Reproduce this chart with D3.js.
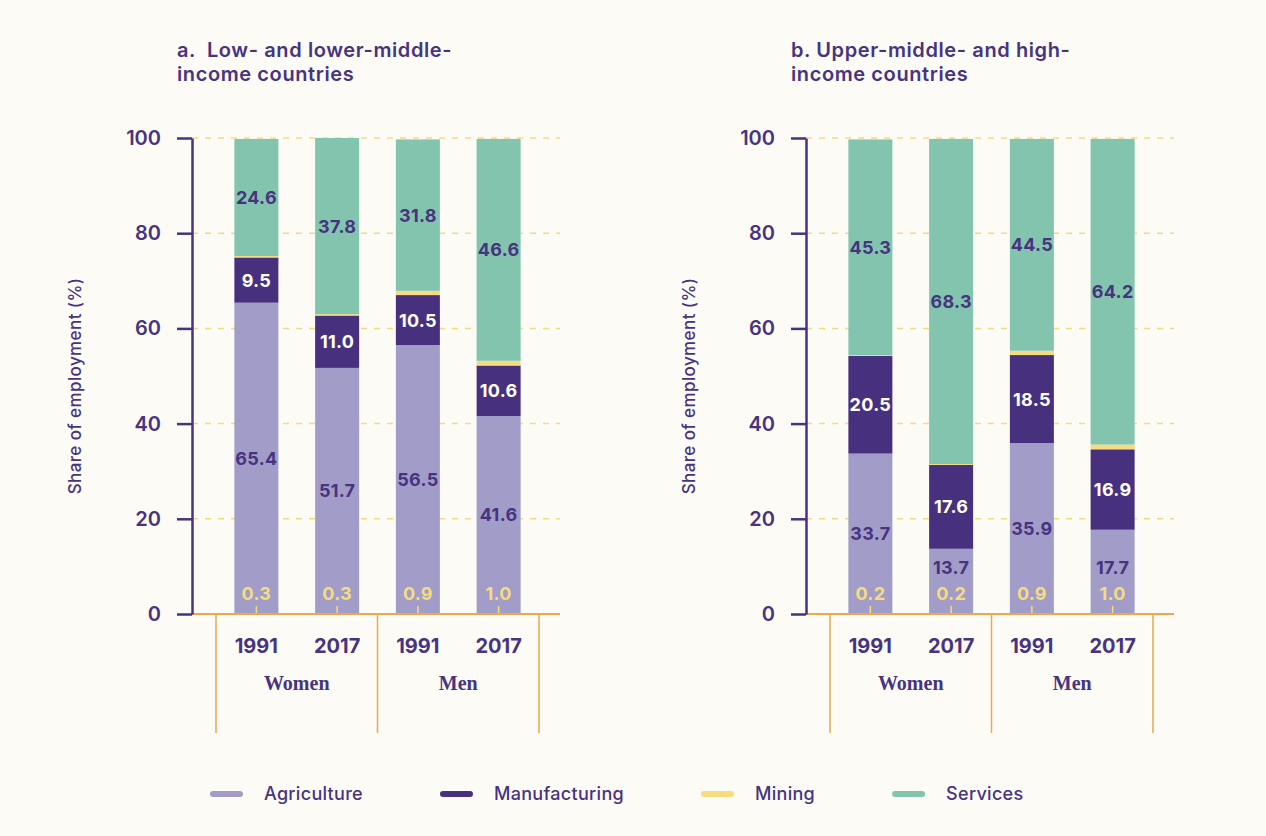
<!DOCTYPE html>
<html>
<head>
<meta charset="utf-8">
<script src="https://cdn.jsdelivr.net/npm/d3@7"></script>
<style>
  html, body { margin: 0; padding: 0; background: #fcfbf6; }
  svg { display: block; font-family: Inter, "Noto Sans", sans-serif; }
</style>
</head>
<body>
<div id="chart"></div>
<script>
(function(global) {
"use strict";

// ---- data ------------------------------------------------------------------
const years = ["1991", "2017", "1991", "2017"];
const sexes = ["Women", "Men"];
const sectors = ["Agriculture", "Manufacturing", "Mining", "Services"];
const yTicks = [0, 20, 40, 60, 80, 100];

const lowAgriculture   = [65.4, 51.7, 56.5, 41.6];
const lowManufacturing = [9.5, 11.0, 10.5, 10.6];
const lowMining        = [0.3, 0.3, 0.9, 1.0];
const lowServices      = [24.6, 37.8, 31.8, 46.6];

const highAgriculture   = [33.7, 13.7, 35.9, 17.7];
const highManufacturing = [20.5, 17.6, 18.5, 16.9];
const highMining        = [0.2, 0.2, 0.9, 1.0];
const highServices      = [45.3, 68.3, 44.5, 64.2];

const titleLow  = ["a.  Low- and lower-middle-", "income countries"];
const titleHigh = ["b. Upper-middle- and high-", "income countries"];
const yTitle = "Share of employment (%)";

// ---- style -----------------------------------------------------------------
const PURPLE = "#47337f";
const ORANGE = "#e9a94c";
const GRID = "#f7da80";
const colors = {
  Agriculture: "#a19dc8",
  Manufacturing: "#47317f",
  Mining: "#f6dc7e",
  Services: "#82c4ae"
};
const labelColors = {
  Agriculture: PURPLE,
  Manufacturing: "#ffffff",
  Services: PURPLE
};

const W = 1266, H = 836;
const svg = d3.select("#chart").append("svg")
              .attr("width", W)
              .attr("height", H);

svg.append("rect").attr("width", W).attr("height", H).attr("fill", "#fcfbf6");

// shares are rounded, so some bars add up a little past 100: clamp them
const y = d3.scaleLinear().domain([0, 100]).range([614, 138]).clamp(true);

const makeRows = (agri, manu, mini, serv) =>
  years.map((yr, i) => ({
    idx: i,
    year: yr,
    sex: sexes[Math.floor(i / 2)],
    Agriculture: agri[i],
    Manufacturing: manu[i],
    Mining: mini[i],
    Services: serv[i]
  }));

const drawPanel = (axisX, title, rows) => {
  const g = svg.append("g");
  const bandStart = axisX + 24, bandEnd = axisX + 347, lineEnd = axisX + 368;

  const x = d3.scaleBand()
              .domain(rows.map(r => r.idx))
              .range([bandStart, bandEnd])
              .paddingInner(0.455)
              .paddingOuter(0.2275);
  const xg = d3.scaleBand().domain(sexes).range([bandStart, bandEnd]);

  // title
  g.append("text")
   .attr("x", axisX - 15).attr("y", 57)
   .attr("fill", PURPLE).attr("font-size", 20).attr("font-weight", 600)
   .attr("letter-spacing", 0.6)
   .style("white-space", "pre")
   .selectAll("tspan").data(title).enter().append("tspan")
   .attr("x", axisX - 15)
   .attr("dy", (d, i) => i ? 24 : 0)
   .text(d => d);

  // grid
  g.append("g").selectAll("line")
   .data(yTicks.filter(t => t > 0))
   .enter().append("line")
   .attr("x1", axisX).attr("x2", lineEnd)
   .attr("y1", d => y(d)).attr("y2", d => y(d))
   .attr("stroke", GRID).attr("stroke-width", 1.5)
   .attr("stroke-dasharray", "6,7");

  // bars
  const series = d3.stack().keys(sectors)(rows);
  g.append("g").selectAll("g")
   .data(series).enter().append("g")
   .attr("fill", s => colors[s.key])
   .selectAll("rect")
   .data(s => s).enter().append("rect")
   .attr("x", d => x(d.data.idx))
   .attr("width", x.bandwidth())
   .attr("y", d => y(d[1]))
   .attr("height", d => y(d[0]) - y(d[1]));

  // segment labels
  series.filter(s => s.key !== "Mining").forEach(s => {
    g.append("g").selectAll("text")
     .data(s).enter().append("text")
     .attr("x", d => x(d.data.idx) + x.bandwidth() / 2)
     .attr("y", d => Math.min((y(d[0]) + y(d[1])) / 2, y(0) - 46))
     .attr("dy", "0.36em")
     .attr("text-anchor", "middle")
     .attr("fill", labelColors[s.key])
     .attr("font-size", 18).attr("font-weight", 700)
     .attr("letter-spacing", 0.3)
     .text(d => d.data[s.key].toFixed(1));
  });

  // mining labels, put at the foot of each bar
  const mining = g.append("g").selectAll("g")
                  .data(rows).enter().append("g");
  mining.append("text")
        .attr("x", d => x(d.idx) + x.bandwidth() / 2)
        .attr("y", y(0) - 20)
        .attr("dy", "0.36em")
        .attr("text-anchor", "middle")
        .attr("fill", colors.Mining)
        .attr("font-size", 18).attr("font-weight", 700)
        .attr("letter-spacing", 0.3)
        .text(d => d.Mining.toFixed(1));
  mining.append("line")
        .attr("x1", d => x(d.idx) + x.bandwidth() / 2)
        .attr("x2", d => x(d.idx) + x.bandwidth() / 2)
        .attr("y1", y(0) - 8).attr("y2", y(0))
        .attr("stroke", colors.Mining).attr("stroke-width", 1.5);

  // baseline + group separators
  g.append("line")
   .attr("x1", axisX).attr("x2", lineEnd)
   .attr("y1", y(0)).attr("y2", y(0))
   .attr("stroke", ORANGE).attr("stroke-width", 2);
  g.append("g").selectAll("line")
   .data([bandStart, xg("Men"), bandEnd])
   .enter().append("line")
   .attr("x1", d => d).attr("x2", d => d)
   .attr("y1", y(0)).attr("y2", 733)
   .attr("stroke", ORANGE).attr("stroke-width", 1.5);

  // y axis
  const yAxis = g.append("g")
                 .attr("transform", `translate(${axisX},0)`)
                 .call(d3.axisLeft(y).tickValues(yTicks).tickSize(15).tickSizeOuter(0).tickPadding(16));
  yAxis.select(".domain").attr("stroke", PURPLE).attr("stroke-width", 2.5);
  yAxis.selectAll(".tick line").attr("stroke", PURPLE).attr("stroke-width", 2.5);
  yAxis.selectAll(".tick text")
       .attr("fill", PURPLE)
       .attr("font-size", 20).attr("font-weight", 600)
       .attr("font-family", "Inter, sans-serif");

  g.append("text")
   .attr("transform", `translate(${axisX - 117},386) rotate(-90)`)
   .attr("text-anchor", "middle")
   .attr("dy", "0.36em")
   .attr("fill", PURPLE)
   .attr("font-size", 17).attr("font-weight", 500)
   .attr("letter-spacing", 0.4)
   .text(yTitle);

  // x labels
  g.append("g").selectAll("text")
   .data(rows).enter().append("text")
   .attr("x", d => x(d.idx) + x.bandwidth() / 2)
   .attr("y", 653)
   .attr("text-anchor", "middle")
   .attr("fill", PURPLE)
   .attr("font-size", 20).attr("font-weight", 700)
   .text(d => d.year);
  g.append("g").selectAll("text")
   .data(sexes).enter().append("text")
   .attr("x", d => xg(d) + xg.bandwidth() / 2)
   .attr("y", 690)
   .attr("text-anchor", "middle")
   .attr("fill", PURPLE)
   .attr("font-family", "'Liberation Serif', 'DejaVu Serif', serif")
   .attr("font-size", 20).attr("font-weight", 700)
   .text(d => d);
};

drawPanel(192, titleLow, makeRows(lowAgriculture, lowManufacturing, lowMining, lowServices));
drawPanel(806, titleHigh, makeRows(highAgriculture, highManufacturing, highMining, highServices));

// ---- legend ----------------------------------------------------------------
const legend = svg.append("g").attr("transform", "translate(210,794)");
let cx = 0;
sectors.forEach(key => {
  const item = legend.append("g").attr("transform", `translate(${cx},0)`);
  item.append("line")
      .attr("x1", 3).attr("x2", 30)
      .attr("stroke", colors[key]).attr("stroke-width", 6)
      .attr("stroke-linecap", "round");
  const t = item.append("text")
                .attr("x", 54).attr("dy", "0.36em")
                .attr("fill", PURPLE)
                .attr("font-size", 18).attr("font-weight", 500)
                .attr("letter-spacing", 0.3)
                .text(key);
  cx += 54 + t.node().getComputedTextLength() + 77;
});

})(this);
</script>
</body>
</html>
